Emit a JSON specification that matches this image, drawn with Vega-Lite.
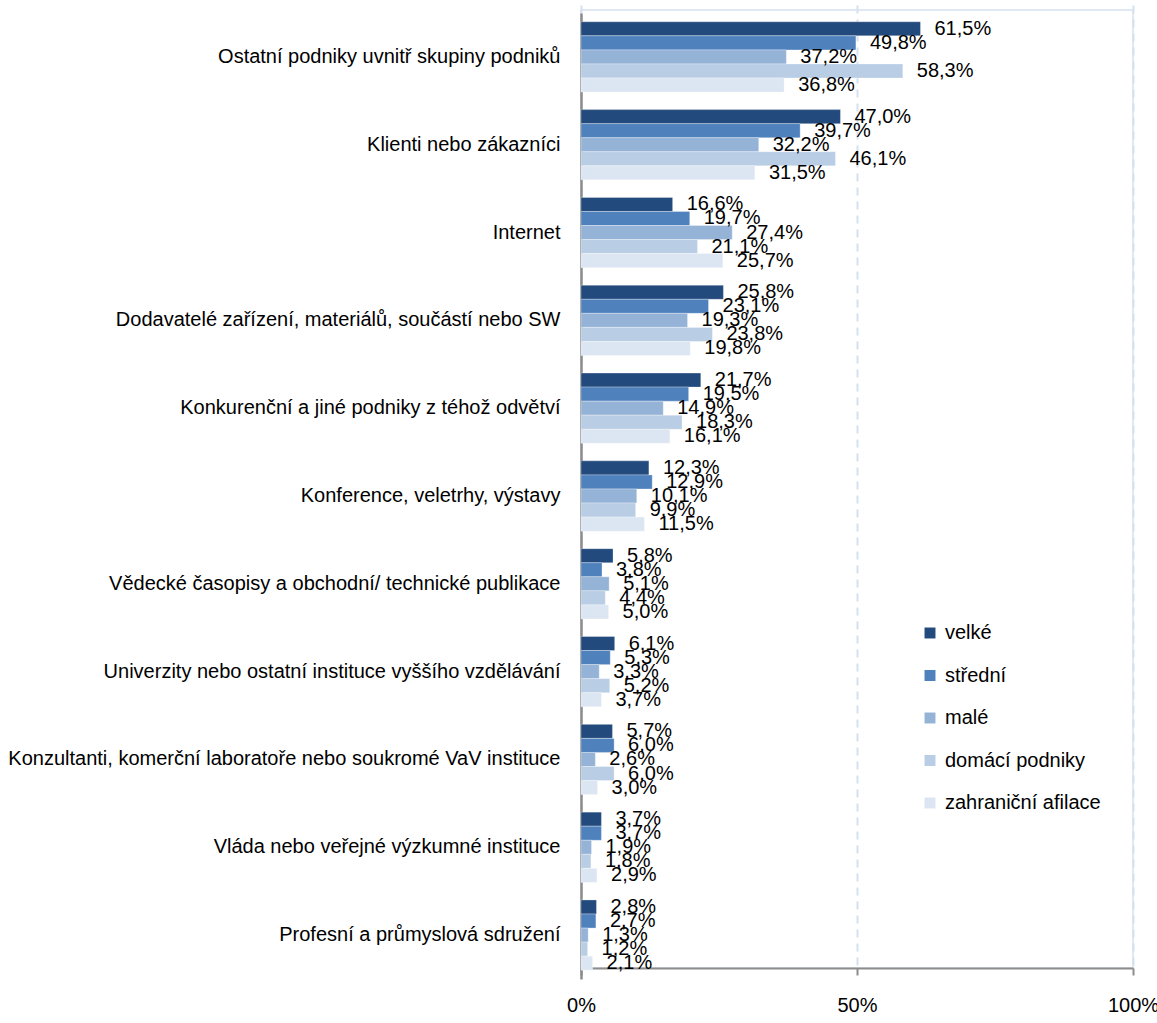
{
  "$schema": "https://vega.github.io/schema/vega-lite/v6.json",
  "width": 552,
  "height": 958,
  "autosize": {"type": "none"},
  "padding": {"left": 581, "top": 10, "right": 24, "bottom": 55},
  "background": "white",
  "config": {
    "font": "Liberation Sans",
    "locale": {"number": {"decimal": ",", "thousands": " ", "grouping": [3], "currency": ["", " Kč"]}},
    "view": {"stroke": "#d6e1ef", "strokeWidth": 1.5}
  },
  "data": {"values": [
    {"cat": "Ostatní podniky uvnitř skupiny podniků", "s": "velké", "v": 0.615},
    {"cat": "Ostatní podniky uvnitř skupiny podniků", "s": "střední", "v": 0.498},
    {"cat": "Ostatní podniky uvnitř skupiny podniků", "s": "malé", "v": 0.372},
    {"cat": "Ostatní podniky uvnitř skupiny podniků", "s": "domácí podniky", "v": 0.583},
    {"cat": "Ostatní podniky uvnitř skupiny podniků", "s": "zahraniční afilace", "v": 0.368},
    {"cat": "Klienti nebo zákazníci", "s": "velké", "v": 0.470},
    {"cat": "Klienti nebo zákazníci", "s": "střední", "v": 0.397},
    {"cat": "Klienti nebo zákazníci", "s": "malé", "v": 0.322},
    {"cat": "Klienti nebo zákazníci", "s": "domácí podniky", "v": 0.461},
    {"cat": "Klienti nebo zákazníci", "s": "zahraniční afilace", "v": 0.315},
    {"cat": "Internet", "s": "velké", "v": 0.166},
    {"cat": "Internet", "s": "střední", "v": 0.197},
    {"cat": "Internet", "s": "malé", "v": 0.274},
    {"cat": "Internet", "s": "domácí podniky", "v": 0.211},
    {"cat": "Internet", "s": "zahraniční afilace", "v": 0.257},
    {"cat": "Dodavatelé zařízení, materiálů, součástí nebo SW", "s": "velké", "v": 0.258},
    {"cat": "Dodavatelé zařízení, materiálů, součástí nebo SW", "s": "střední", "v": 0.231},
    {"cat": "Dodavatelé zařízení, materiálů, součástí nebo SW", "s": "malé", "v": 0.193},
    {"cat": "Dodavatelé zařízení, materiálů, součástí nebo SW", "s": "domácí podniky", "v": 0.238},
    {"cat": "Dodavatelé zařízení, materiálů, součástí nebo SW", "s": "zahraniční afilace", "v": 0.198},
    {"cat": "Konkurenční a jiné podniky z téhož odvětví", "s": "velké", "v": 0.217},
    {"cat": "Konkurenční a jiné podniky z téhož odvětví", "s": "střední", "v": 0.195},
    {"cat": "Konkurenční a jiné podniky z téhož odvětví", "s": "malé", "v": 0.149},
    {"cat": "Konkurenční a jiné podniky z téhož odvětví", "s": "domácí podniky", "v": 0.183},
    {"cat": "Konkurenční a jiné podniky z téhož odvětví", "s": "zahraniční afilace", "v": 0.161},
    {"cat": "Konference, veletrhy, výstavy", "s": "velké", "v": 0.123},
    {"cat": "Konference, veletrhy, výstavy", "s": "střední", "v": 0.129},
    {"cat": "Konference, veletrhy, výstavy", "s": "malé", "v": 0.101},
    {"cat": "Konference, veletrhy, výstavy", "s": "domácí podniky", "v": 0.099},
    {"cat": "Konference, veletrhy, výstavy", "s": "zahraniční afilace", "v": 0.115},
    {"cat": "Vědecké časopisy a obchodní/ technické publikace", "s": "velké", "v": 0.058},
    {"cat": "Vědecké časopisy a obchodní/ technické publikace", "s": "střední", "v": 0.038},
    {"cat": "Vědecké časopisy a obchodní/ technické publikace", "s": "malé", "v": 0.051},
    {"cat": "Vědecké časopisy a obchodní/ technické publikace", "s": "domácí podniky", "v": 0.044},
    {"cat": "Vědecké časopisy a obchodní/ technické publikace", "s": "zahraniční afilace", "v": 0.050},
    {"cat": "Univerzity nebo ostatní instituce vyššího vzdělávání", "s": "velké", "v": 0.061},
    {"cat": "Univerzity nebo ostatní instituce vyššího vzdělávání", "s": "střední", "v": 0.053},
    {"cat": "Univerzity nebo ostatní instituce vyššího vzdělávání", "s": "malé", "v": 0.033},
    {"cat": "Univerzity nebo ostatní instituce vyššího vzdělávání", "s": "domácí podniky", "v": 0.052},
    {"cat": "Univerzity nebo ostatní instituce vyššího vzdělávání", "s": "zahraniční afilace", "v": 0.037},
    {"cat": "Konzultanti, komerční laboratoře nebo soukromé VaV instituce", "s": "velké", "v": 0.057},
    {"cat": "Konzultanti, komerční laboratoře nebo soukromé VaV instituce", "s": "střední", "v": 0.060},
    {"cat": "Konzultanti, komerční laboratoře nebo soukromé VaV instituce", "s": "malé", "v": 0.026},
    {"cat": "Konzultanti, komerční laboratoře nebo soukromé VaV instituce", "s": "domácí podniky", "v": 0.060},
    {"cat": "Konzultanti, komerční laboratoře nebo soukromé VaV instituce", "s": "zahraniční afilace", "v": 0.030},
    {"cat": "Vláda nebo veřejné výzkumné instituce", "s": "velké", "v": 0.037},
    {"cat": "Vláda nebo veřejné výzkumné instituce", "s": "střední", "v": 0.037},
    {"cat": "Vláda nebo veřejné výzkumné instituce", "s": "malé", "v": 0.019},
    {"cat": "Vláda nebo veřejné výzkumné instituce", "s": "domácí podniky", "v": 0.018},
    {"cat": "Vláda nebo veřejné výzkumné instituce", "s": "zahraniční afilace", "v": 0.029},
    {"cat": "Profesní a průmyslová sdružení", "s": "velké", "v": 0.028},
    {"cat": "Profesní a průmyslová sdružení", "s": "střední", "v": 0.027},
    {"cat": "Profesní a průmyslová sdružení", "s": "malé", "v": 0.013},
    {"cat": "Profesní a průmyslová sdružení", "s": "domácí podniky", "v": 0.012},
    {"cat": "Profesní a průmyslová sdružení", "s": "zahraniční afilace", "v": 0.021}
  ]},
  "encoding": {
    "y": {
      "field": "cat", "type": "nominal", "sort": null, "title": null,
      "scale": {"paddingInner": 0.2, "paddingOuter": 0.1, "range": [3, 969]},
      "axis": {"labelFontSize": 20, "labelColor": "#000000", "labelLimit": 700, "labelPadding": 21, "ticks": false, "domainColor": "#8c8c8c", "domainWidth": 2.5}
    },
    "yOffset": {"field": "s", "type": "nominal", "sort": ["velké", "střední", "malé", "domácí podniky", "zahraniční afilace"]},
    "x": {
      "field": "v", "type": "quantitative", "title": null,
      "scale": {"domain": [0, 1], "nice": false},
      "axis": {"format": ".0%", "values": [0, 0.5, 1], "labelFontSize": 20, "labelColor": "#000000", "labelPadding": 20, "tickSize": 7, "tickColor": "#8c8c8c", "tickWidth": 2, "domainColor": "#8c8c8c", "domainWidth": 2, "grid": true, "gridColor": "#d6e1ef", "gridWidth": 2, "gridDash": [8, 6], "labelFlush": false}
    }
  },
  "layer": [
    {
      "mark": {"type": "bar", "stroke": "#ffffff", "strokeWidth": 0.5, "strokeOpacity": 0.6},
      "encoding": {
        "color": {
          "field": "s", "type": "nominal", "title": null,
          "scale": {"domain": ["velké", "střední", "malé", "domácí podniky", "zahraniční afilace"], "range": ["#234a7d", "#4f81bd", "#95b3d7", "#b9cde5", "#dce6f2"]},
          "legend": {"orient": "none", "legendX": 339, "legendY": 613, "labelFontSize": 20, "labelColor": "#000000", "symbolType": "square", "symbolSize": 120, "symbolStrokeWidth": 0, "rowPadding": 22.5, "labelOffset": 5}
        }
      }
    },
    {
      "mark": {"type": "text", "align": "left", "baseline": "middle", "dx": 14, "fontSize": 20, "color": "#000000"},
      "encoding": {"text": {"field": "v", "type": "quantitative", "format": ".1%"}}
    }
  ]
}
